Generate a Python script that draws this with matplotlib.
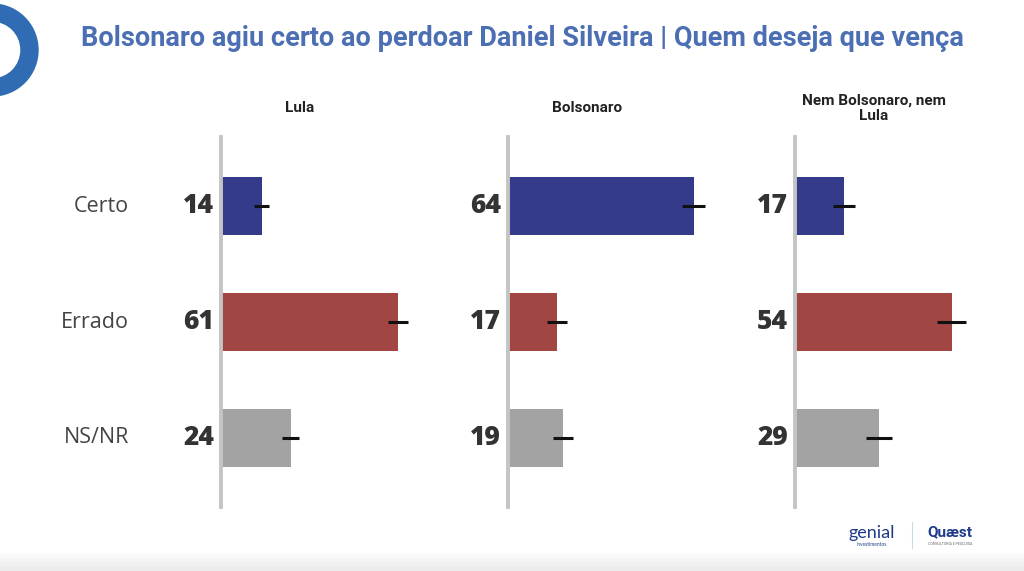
import matplotlib.pyplot as plt
from matplotlib.patches import Wedge, Rectangle

# data
categories = ["Certo", "Errado", "NS/NR"]
groups = ["Lula", "Bolsonaro", "Nem Bolsonaro, nem\nLula"]
values = [
    [14, 61, 24],
    [64, 17, 19],
    [17, 54, 29],
]
errors = [
    [2.5, 3.5, 3.0],
    [4.0, 3.5, 3.5],
    [3.8, 5.0, 4.5],
]
colors = ["#353b8b", "#a14643", "#a3a3a3"]

W, H = 1024, 571


def px(x0, y0, w, h):
    # pixel box (from top-left) to figure fraction
    return [x0 / W, 1 - (y0 + h) / H, w / W, h / H]


def main() -> None:
    fig = plt.figure(figsize=(W / 100, H / 100), dpi=100)
    fig.patch.set_facecolor("white")

    # decorative ring top-left and faint footer band
    deco = fig.add_axes([0, 0, 1, 1], zorder=-1)
    deco.set_xlim(0, W)
    deco.set_ylim(H, 0)
    deco.axis("off")
    deco.add_patch(Wedge((-8, 50), 46, -90, 90, width=17, color="#2f6cb3"))
    for k, c in enumerate(["#fafafa", "#f5f5f5", "#f0f0f0", "#ececec"]):
        deco.add_patch(Rectangle((0, 553 + k * 4.5), W, 4.5 if k < 3 else 10,
                                 color=c, lw=0))

    fig.text(522 / W, 1 - 38 / H,
             "Bolsonaro agiu certo ao perdoar Daniel Silveira | Quem deseja que vença",
             ha="center", va="center", fontsize=19.5, fontweight="bold",
             color="#4c6fb4", family="Roboto")

    scale = 2.9  # px per unit
    axes_left = [221, 508, 795]
    width_px = 220
    for gi, (x0, grp) in enumerate(zip(axes_left, groups)):
        ax = fig.add_axes(px(x0, 137, width_px, 370))
        ax.barh(range(3), values[gi], height=0.5, color=colors, zorder=2)
        ax.errorbar(values[gi], range(3), xerr=errors[gi], fmt="none",
                    ecolor="#111111", elinewidth=2.2, capsize=0, zorder=3)
        ax.set_xlim(0, width_px / scale)
        ax.set_ylim(2.595, -0.595)
        for s in ["top", "right", "bottom"]:
            ax.spines[s].set_visible(False)
        ax.spines["left"].set_color("#c4c4c4")
        ax.spines["left"].set_linewidth(2.8)
        ax.set_xticks([])
        ax.set_yticks([])
        ax.patch.set_alpha(0)
        for i, v in enumerate(values[gi]):
            ax.annotate(str(v), (0, i), xytext=(-5, 0), textcoords="offset points",
                        ha="right", va="center", fontsize=19, fontweight=800,
                        color="#333333", family="Open Sans")
        fig.text((x0 + 79) / W, 1 - 108 / H, grp, ha="center", va="center",
                 fontsize=11, fontweight="bold", color="#222222",
                 family="Roboto", linespacing=1.1)
        if gi == 0:
            for i, c in enumerate(categories):
                ax.annotate(c, (0, i), xytext=(-66, 0), textcoords="offset points",
                            ha="right", va="center", fontsize=15.5,
                            color="#444444", family="Open Sans")

    # logos
    fig.text(872 / W, 1 - 533 / H, "genial", ha="center", va="center",
             fontsize=13, color="#1f3a8a", family="Lato")
    fig.text(872 / W, 1 - 545 / H, "investimentos", ha="center", va="center",
             fontsize=3.5, color="#1f3a8a", family="Lato")
    fig.lines.append(plt.Line2D([912 / W, 912 / W], [1 - 522 / H, 1 - 548 / H],
                                transform=fig.transFigure, color="#c9dbe6", lw=0.8))
    fig.text(950 / W, 1 - 532 / H, "Quæst", ha="center", va="center",
             fontsize=11, fontweight="bold", color="#1f3a8a", family="Roboto")
    fig.text(950 / W, 1 - 544 / H, "CONSULTORIA E PESQUISA", ha="center",
             va="center", fontsize=2.6, color="#666666", family="Roboto")

    fig.savefig("out.png", dpi=100)
    plt.close(fig)


if __name__ == "__main__":
    main()
